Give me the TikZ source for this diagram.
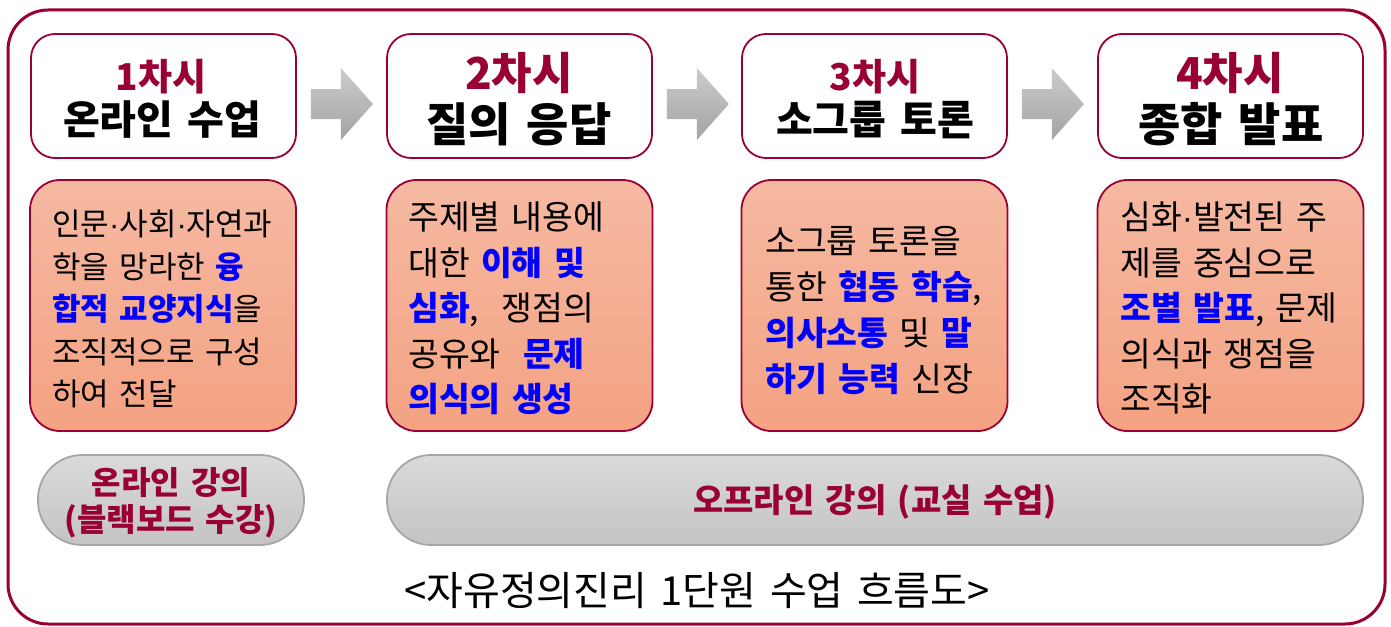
\documentclass[tikz,border=0pt]{standalone}
\usepackage{fontspec}
\setmainfont{Noto Sans CJK KR}[WordSpace=1.5]
\newfontfamily\latinf{Liberation Sans}
\usetikzlibrary{calc}
\definecolor{crim}{RGB}{153,0,51}
\definecolor{kblue}{RGB}{0,0,255}
\definecolor{salmtop}{RGB}{245,185,162}
\definecolor{salmbot}{RGB}{244,162,130}
\definecolor{pilltop}{RGB}{218,218,218}
\definecolor{pillbot}{RGB}{196,196,196}
\definecolor{pillline}{RGB}{166,166,166}
\newcommand\kb[1]{{\bfseries\color{kblue}#1}}
\newcommand\md{{\latinf ·}}
\begin{document}
\begin{tikzpicture}[x=1pt,y=-1pt,
  topbox/.style={draw=crim,line width=1.8pt,fill=white,rounded corners=24pt,minimum width=265pt,minimum height=124pt,inner sep=0pt},
  midbox/.style={draw=crim,line width=1.8pt,top color=salmtop,bottom color=salmbot,rounded corners=30pt,minimum width=266pt,minimum height=251pt,inner sep=0pt},
  pill/.style={draw=pillline,line width=1.8pt,top color=pilltop,bottom color=pillbot,rounded corners=44pt,minimum height=90pt,inner sep=0pt},
  numtxt/.style={text=crim,font=\bfseries\fontsize{37}{40}\selectfont,inner sep=0pt},
  numbig/.style={text=crim,font=\bfseries\fontsize{44}{48}\selectfont,inner sep=0pt},
  ttltxt/.style={text=black,font=\bfseries\fontsize{40}{44}\selectfont,inner sep=0pt},
  ttlbig/.style={text=black,font=\bfseries\fontsize{46}{50}\selectfont,inner sep=0pt},
  body/.style 2 args={align=left,anchor=north west,inner sep=0pt,font=\fontsize{#1}{#2}\selectfont},
  pilltxt/.style={text=crim,align=center,font=\bfseries\fontsize{#1}{37}\selectfont,inner sep=0pt},
  blockarrow/.style={top color=gray!40,bottom color=gray!72,draw=none}
]
\useasboundingbox (0,0) rectangle (1391,626);
% outer frame
\draw[crim,line width=3pt,rounded corners=40pt] (8,10) rectangle (1385,624);

% top boxes
\node[topbox] (t1) at (163.5,96) {};
\node[topbox] (t2) at (519.5,96) {};
\node[topbox] (t3) at (874.5,96) {};
\node[topbox] (t4) at (1230.5,96) {};

\node[numtxt] (n1) at (161,77) {1차시};
\node[ttltxt] (h1) at (162,120) {온라인 수업};
\node[numbig] (n2) at (519,73) {2차시};
\node[ttlbig] (h2) at (519,124) {질의 응답};
\node[numtxt] (n3) at (875,77) {3차시};
\node[ttltxt] (h3) at (875,120) {소그룹 토론};
\node[numbig] (n4) at (1230,73) {4차시};
\node[ttlbig] (h4) at (1231,124) {종합 발표};

% block arrows
\foreach \a/\b in {t1/t2,t2/t3,t3/t4}{
  \coordinate (ar) at ($(\a.east)+(14,8)$);
  \path[blockarrow] ($(ar)+(0,-15)$) -- ++(30,0) -- ++(0,-21) -- ++(32,36) -- ++(-32,36) -- ++(0,-21) -- ++(-30,0) -- cycle;
}

% middle boxes
\node[midbox] (m1) at (163,305.5) {};
\node[midbox] (m2) at (519.5,305.5) {};
\node[midbox] (m3) at (874.5,305.5) {};
\node[midbox] (m4) at (1230.5,305.5) {};

\node[body={31}{42.5}] (b1) at (52,210) {인문\md 사회\md 자연과\\학을 망라한 \kb{융}\\\kb{합적 교양지식}을\\조직적으로 구성\\하여 전달};
\node[body={33.5}{45.5}] (b2) at (408,202) {주제별 내용에\\대한 \kb{이해 및}\\\kb{심화},\ \ 쟁점의\\공유와\ \ \kb{문제}\\\kb{의식의 생성}};
\node[body={33.5}{46}] (b3) at (765,226) {소그룹 토론을\\통한 \kb{협동 학습},\\\kb{의사소통} 및 \kb{말}\\\kb{하기 능력} 신장};
\node[body={33.5}{45.5}] (b4) at (1120,202) {심화\md 발전된 주\\제를 중심으로\\\kb{조별 발표}, 문제\\의식과 쟁점을\\조직화};

% bottom pills
\node[pill,minimum width=266pt] (p1) at (171,500) {};
\node[pill,minimum width=976pt] (p2) at (875,500) {};
\node[pilltxt=32] (p1t) at (171,503) {온라인 강의\\(블랙보드 수강)};
\node[pilltxt=33] (p2t) at (875,502) {오프라인 강의 (교실 수업)};

% caption
\node[inner sep=0pt,font=\fontsize{40}{44}\selectfont] (cap) at (697,591) {<자유정의진리 1단원 수업 흐름도>};
\end{tikzpicture}
\end{document}
